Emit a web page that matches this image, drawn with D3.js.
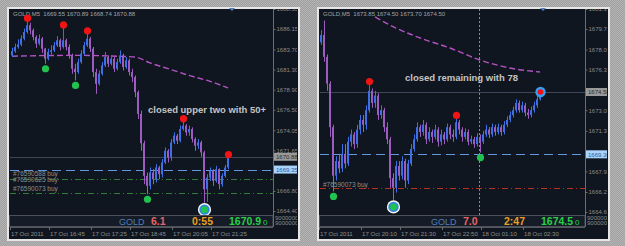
<!DOCTYPE html>
<html>
<head>
<meta charset="utf-8">
<script src="https://cdn.jsdelivr.net/npm/d3@7"></script>
<style>
body { margin: 0; background: #a8a8a8; }
svg { display: block; font-family: "Liberation Sans", Arial, sans-serif; }
</style>
</head>
<body>
<svg id="chart" width="625" height="246"></svg>
<script>

// ---- left chart (GOLD M5, 17 Oct 2011, first half) ----
var leftOpen0 = 1683.0;
var leftClose = [1683.5,1684.0,1684.3,1685.0,1685.8,1686.6,1686.0,1685.2,1684.4,1685.0,
                 1683.8,1682.6,1683.4,1683.6,1684.2,1684.8,1684.0,1684.8,1684.0,1683.0,
                 1681.4,1681.0,1682.2,1683.2,1684.2,1685.0,1683.8,1681.0,1679.6,1680.8,
                 1681.8,1682.8,1682.0,1682.6,1681.4,1682.2,1683.0,1681.6,1682.4,1681.0,
                 1680.4,1678.6,1676.0,1672.5,1668.6,1667.4,1669.0,1668.2,1669.6,1668.8,
                 1670.2,1671.6,1670.8,1672.6,1673.4,1672.8,1674.2,1674.6,1673.8,1674.2,
                 1673.0,1672.2,1672.6,1671.4,1667.0,1668.4,1669.2,1668.0,1669.4,1667.6,
                 1668.6,1669.6,1670.88];
var leftHigh = [1683.9,1684.4,1684.9,1685.4,1686.2,1687.2,1686.9,1686.2,1685.4,1685.5,
                1685.2,1683.9,1683.8,1684.2,1684.6,1685.3,1685.0,1686.4,1685.0,1684.3,
                1683.2,1682.0,1682.6,1683.6,1684.6,1685.7,1685.2,1684.0,1681.4,1681.2,
                1682.2,1683.4,1683.0,1683.0,1682.8,1682.6,1683.6,1683.2,1682.8,1682.6,
                1681.4,1680.6,1678.8,1676.4,1672.8,1669.0,1669.6,1669.4,1670.0,1669.8,
                1670.6,1672.0,1671.8,1673.0,1673.8,1673.6,1674.6,1675.2,1674.8,1674.6,
                1674.4,1673.2,1673.0,1672.8,1671.6,1668.8,1669.6,1669.4,1669.8,1669.5,
                1668.9,1669.9,1670.9];
var leftLow = [1682.8,1683.3,1683.8,1684.1,1684.8,1685.6,1685.5,1684.8,1683.9,1684.2,
               1683.3,1682.0,1682.4,1683.1,1683.4,1684.0,1683.6,1683.8,1683.6,1682.6,
               1680.8,1680.0,1680.8,1682.0,1683.0,1684.0,1683.4,1680.4,1678.4,1679.4,
               1680.6,1681.6,1681.6,1681.8,1681.0,1681.2,1682.0,1681.2,1681.4,1680.6,
               1679.8,1678.0,1675.4,1671.6,1667.6,1666.4,1667.0,1667.6,1667.8,1668.2,
               1668.4,1670.0,1670.2,1670.4,1672.4,1672.4,1672.6,1674.0,1673.4,1673.4,
               1672.6,1671.6,1671.8,1670.9,1665.4,1665.5,1668.0,1667.4,1667.8,1667.0,
               1667.3,1668.4,1669.4];
var leftMaIdx = [0, 20, 35, 41, 46, 53, 59, 66, 72];
var leftMa = [1682.9, 1683.0, 1682.9, 1682.8, 1682.1, 1681.3, 1680.6, 1679.9, 1679.1];
var leftSignalIdx = [5, 17, 25, 57, 72, 11, 21, 45, 64];
var leftSignalKind = ["hi","hi","hi","hi","hi","lo","lo","lo","ring"];
var leftLevels = [1670.88, 1669.35, 1668.22, 1666.59];
var leftLevelKind = ["price", "entry", "order", "order"];
var leftOrderText = ["#76590588 buy", "#76590625 buy", "#76590073 buy"];
var leftOrderPrice = [1668.6, 1667.92, 1666.75];
var leftTicks = [1688.55, 1686.15, 1683.70, 1681.30, 1678.90, 1676.50, 1674.05, 1671.65, 1666.80, 1664.40];
var leftMarked = [1670.88, 1669.35];
var leftTimeIdx = [0, 13, 27, 40, 54, 67];
var leftTimeLabels = ["17 Oct 2011", "17 Oct 16:45", "17 Oct 17:25", "17 Oct 18:45", "17 Oct 20:05", "17 Oct 21:25"];
var leftHeader = "GOLD,M5  1669.55 1670.89 1668.74 1670.88";
var leftNote = "closed upper two with 50+";
var leftInfo = ["GOLD", "6.1", "0:55", "1670.9", "0"];

// ---- right chart (GOLD M5, 17-18 Oct 2011) ----
var rightOpen0 = 1678.6;
var rightClose = [1679.2,1677.4,1675.2,1671.6,1667.6,1668.8,1668.2,1669.4,1668.6,1670.4,
                  1671.0,1670.2,1671.4,1672.2,1671.8,1673.0,1674.6,1673.6,1674.2,1672.6,
                  1673.0,1671.6,1670.6,1667.4,1666.6,1668.4,1667.6,1668.8,1667.2,1668.6,
                  1669.8,1670.6,1671.6,1671.2,1671.8,1670.6,1671.2,1670.8,1671.4,1670.4,
                  1671.0,1670.6,1671.6,1671.0,1670.8,1672.0,1671.4,1670.8,1671.2,1670.4,
                  1670.6,1670.2,1670.8,1670.4,1671.0,1671.4,1671.0,1671.6,1671.2,1671.6,
                  1671.2,1671.8,1672.2,1672.6,1673.0,1673.6,1673.0,1673.4,1672.8,1672.6,
                  1673.0,1673.4,1673.9,1674.5];
var rightHigh = [1679.6,1680.4,1677.6,1675.4,1671.8,1669.2,1669.4,1670.2,1670.2,1670.8,
                 1671.4,1671.2,1671.8,1672.6,1672.6,1673.4,1675.2,1674.8,1674.6,1674.4,
                 1673.4,1673.2,1672.0,1670.8,1667.8,1668.8,1668.8,1669.2,1669.0,1668.9,
                 1670.2,1671.0,1672.0,1671.8,1672.2,1672.0,1671.6,1671.4,1671.8,1671.6,
                 1671.4,1671.2,1671.9,1671.8,1671.4,1672.4,1672.2,1671.6,1671.5,1671.4,
                 1670.9,1670.8,1671.1,1671.0,1671.3,1671.8,1671.6,1671.9,1671.8,1671.9,
                 1671.8,1672.1,1672.5,1672.9,1673.3,1673.9,1673.8,1673.7,1673.6,1673.1,
                 1673.3,1673.7,1674.2,1674.6];
var rightLow = [1678.4,1677.0,1674.6,1670.8,1666.3,1667.2,1667.8,1667.9,1668.2,1668.4,
                1670.0,1669.8,1669.9,1671.0,1671.2,1671.4,1672.8,1673.2,1673.2,1672.2,
                1672.3,1671.2,1670.2,1666.6,1665.6,1666.2,1667.2,1667.3,1666.6,1666.9,
                1668.4,1669.6,1670.4,1670.8,1670.9,1670.2,1670.4,1670.3,1670.6,1670.0,
                1670.1,1670.2,1670.4,1670.6,1670.4,1670.6,1671.0,1670.4,1670.6,1670.1,
                1670.2,1669.9,1670.0,1669.5,1670.2,1670.8,1670.7,1670.8,1670.9,1671.0,
                1670.9,1671.0,1671.6,1672.0,1672.4,1672.8,1672.8,1672.8,1672.5,1672.3,
                1672.4,1672.8,1673.2,1673.8];
var rightMaIdx = [18, 25, 33, 43, 53, 63, 73];
var rightMa = [1680.7, 1679.78, 1678.96, 1678.13, 1677.14, 1676.48, 1676.15];
var rightSignalIdx = [16, 45, 4, 53, 24, 73];
var rightSignalKind = ["hi","hi","lo","lo","ring","end"];
var rightLevels = [1674.50, 1669.36, 1666.58];
var rightLevelKind = ["price", "entry", "stop"];
var rightOrderText = ["#76590073 buy"];
var rightOrderPrice = [1666.7];
var rightTicks = [1681.35, 1679.70, 1678.00, 1676.35, 1673.00, 1671.30, 1667.95, 1666.25, 1664.60];
var rightMarked = [1674.50, 1669.36];
var rightTimeIdx = [0, 14, 27, 41, 54, 68];
var rightTimeLabels = ["17 Oct 2011", "17 Oct 20:10", "17 Oct 21:30", "17 Oct 22:50", "18 Oct 01:10", "18 Oct 02:30"];
var rightCursorIdx = 53;
var rightHeader = "GOLD,M5  1673.85 1674.50 1673.70 1674.50";
var rightNote = "closed remaining with 78";
var rightInfo = ["GOLD", "7.0", "2:47", "1674.5", "0"];

var infoColors = ["#4f7fb8", "#e86464", "#e8a023", "#26d147", "#26d147"];
var infoOffset = [-154, -122, -81, -44, -10];

var svg = d3.select("#chart");
var defs = svg.append("defs");

// grey dithered backdrop
var pat = defs.append("pattern").attr("id", "dither")
    .attr("width", 2).attr("height", 2).attr("patternUnits", "userSpaceOnUse");
pat.append("rect").attr("width", 2).attr("height", 2).attr("fill", "#a0a0a0");
pat.append("rect").attr("width", 1).attr("height", 1).attr("fill", "#b4b4b4");
pat.append("rect").attr("x", 1).attr("y", 1).attr("width", 1).attr("height", 1).attr("fill", "#b4b4b4");
svg.append("rect").attr("width", 625).attr("height", 246).attr("fill", "url(#dither)");

function add_panel(p) {

    var g = svg.append("g");

    // frame
    g.append("rect").attr("x", p.frameL).attr("y", 7)
        .attr("width", p.frameR - p.frameL).attr("height", 234).attr("fill", "#e6e6e6");
    g.append("rect").attr("x", p.frameL + 2).attr("y", 9)
        .attr("width", p.frameR - p.frameL - 4).attr("height", 230).attr("fill", "#10161f");

    var x = d3.scaleLinear().domain([0, p.close.length - 1]).range(p.candleX);
    var y = d3.scaleLinear().domain(p.priceDomain).range(p.priceRange);

    var top = 9, bottom = 215, left = p.frameL + 3;

    defs.append("clipPath").attr("id", "plot" + p.id)
        .append("rect").attr("x", left).attr("y", top)
        .attr("width", p.plotR - left).attr("height", bottom - top);
    defs.append("clipPath").attr("id", "axis" + p.id)
        .append("rect").attr("x", p.plotR).attr("y", top)
        .attr("width", p.frameR - 3 - p.plotR).attr("height", 227 - top);

    var plot = g.append("g").attr("clip-path", "url(#plot" + p.id + ")");

    // header
    plot.append("text").attr("x", left + 3).attr("y", 16)
        .attr("font-size", 6).attr("fill", "#a4a4a4").attr("xml:space", "preserve")
        .text(p.header);

    // vertical cursor line
    if (p.cursorIdx != null) {
        plot.append("line")
            .attr("x1", x(p.cursorIdx) - 0.5).attr("x2", x(p.cursorIdx) - 0.5)
            .attr("y1", top).attr("y2", bottom)
            .attr("stroke", "#8c8c8c").attr("stroke-dasharray", "2,2");
    }

    // horizontal levels
    var levelStyle = {
        price: {stroke: "#3e4757", dash: null, w: 1},
        entry: {stroke: "#6399dc", dash: "9,5", w: 1.2},
        order: {stroke: "#2f7d37", dash: "6,3,1,3", w: 1},
        stop:  {stroke: "#b5321f", dash: "6,3,1,3", w: 1}
    };
    plot.selectAll(".level")
        .data(p.levels)
        .enter().append("line")
        .attr("class", "level")
        .attr("x1", left).attr("x2", p.plotR)
        .attr("y1", function (d) { return Math.round(y(d)) + 0.5; })
        .attr("y2", function (d) { return Math.round(y(d)) + 0.5; })
        .attr("stroke", function (d, i) { return levelStyle[p.levelKind[i]].stroke; })
        .attr("stroke-width", function (d, i) { return levelStyle[p.levelKind[i]].w; })
        .attr("stroke-dasharray", function (d, i) { return levelStyle[p.levelKind[i]].dash; });

    // order labels
    plot.selectAll(".order")
        .data(p.orderText)
        .enter().append("text")
        .attr("class", "order")
        .attr("x", left + 3)
        .attr("y", function (d, i) { return y(p.orderPrice[i]); })
        .attr("font-size", 6.5).attr("fill", "#8e8e8e")
        .text(function (d) { return d; });

    // moving average
    var ma = d3.line()
        .x(function (d, i) { return x(p.maIdx[i]); })
        .y(function (d) { return y(d); })
        .curve(d3.curveMonotoneX);
    plot.append("path")
        .attr("d", ma(p.ma))
        .attr("fill", "none").attr("stroke", "#b452c4")
        .attr("stroke-width", 1.4).attr("stroke-dasharray", "6,3");

    // candles
    var opens = p.close.map(function (c, i) { return i ? p.close[i - 1] : p.open0; });
    function col(i) { return p.close[i] >= opens[i] ? "#3f6fe4" : "#9d5cc0"; }

    plot.selectAll(".wick")
        .data(p.close)
        .enter().append("rect")
        .attr("class", "wick")
        .attr("x", function (d, i) { return x(i); })
        .attr("width", 1)
        .attr("y", function (d, i) { return y(p.high[i]); })
        .attr("height", function (d, i) { return Math.max(1, y(p.low[i]) - y(p.high[i])); })
        .attr("fill", function (d, i) { return col(i); });

    plot.selectAll(".body")
        .data(p.close)
        .enter().append("rect")
        .attr("class", "body")
        .attr("x", function (d, i) { return x(i) - 1; })
        .attr("width", 2)
        .attr("y", function (d, i) { return y(Math.max(d, opens[i])); })
        .attr("height", function (d, i) { return Math.max(1, Math.abs(y(d) - y(opens[i]))); })
        .attr("fill", function (d, i) { return col(i); });

    // signal dots
    p.signalIdx.forEach(function (idx, k) {
        var kind = p.signalKind[k], cx = x(idx) + 0.5;
        if (kind == "hi") {
            plot.append("circle").attr("cx", cx).attr("cy", y(p.high[idx]) - 2)
                .attr("r", 3.6).attr("fill", "#f01414");
        } else if (kind == "lo") {
            plot.append("circle").attr("cx", cx).attr("cy", y(p.low[idx]) + 5)
                .attr("r", 3.6).attr("fill", "#22c24e");
        } else if (kind == "ring") {
            var cy = y(p.low[idx]) + 7;
            plot.append("circle").attr("cx", cx).attr("cy", cy).attr("r", 6.6).attr("fill", "#f4f4f4");
            plot.append("circle").attr("cx", cx).attr("cy", cy).attr("r", 5.2).attr("fill", "#2f86e0");
            plot.append("circle").attr("cx", cx).attr("cy", cy).attr("r", 3.4).attr("fill", "#22c24e");
        } else {
            var cy2 = y(p.close[idx]);
            plot.append("circle").attr("cx", cx).attr("cy", cy2).attr("r", 5.2).attr("fill", "#3a9cf2");
            plot.append("circle").attr("cx", cx).attr("cy", cy2).attr("r", 2.8).attr("fill", "#ee1212");
        }
    });

    // annotation
    plot.append("text")
        .attr("x", p.noteX).attr("y", p.noteY)
        .attr("font-size", 9.5).attr("font-weight", "bold")
        .attr("fill", "#c4c4c4")
        .attr("textLength", p.noteW).attr("lengthAdjust", "spacingAndGlyphs")
        .text(p.note);

    // small marker at the top edge
    g.append("path")
        .attr("d", "M" + (p.markX - 3) + ",8 L" + (p.markX + 3) + ",8 L" + p.markX + ",11 Z")
        .attr("fill", "#5a7fc0");

    // info bar
    g.append("rect").attr("x", left - 0.5).attr("y", 215.5)
        .attr("width", p.plotR - left + 0.5).attr("height", 11)
        .attr("fill", "#151c27").attr("stroke", "#4c5058");
    g.selectAll(".info")
        .data(p.info)
        .enter().append("text")
        .attr("class", "info")
        .attr("x", function (d, i) { return p.plotR + infoOffset[i]; })
        .attr("y", 225)
        .attr("font-size", function (d, i) { return i == 0 ? 9 : (i == 4 ? 8 : 10.5); })
        .attr("font-weight", function (d, i) { return i == 0 || i == 4 ? "normal" : "bold"; })
        .attr("fill", function (d, i) { return infoColors[i]; })
        .text(function (d) { return d; });

    // price axis
    g.append("line")
        .attr("x1", p.plotR + 0.5).attr("x2", p.plotR + 0.5)
        .attr("y1", top).attr("y2", 227)
        .attr("stroke", "#6c6c6c");

    var ax = g.append("g").attr("clip-path", "url(#axis" + p.id + ")");
    var axis = d3.axisRight(y).tickValues(p.ticks).tickSize(2).tickPadding(1)
        .tickFormat(d3.format(".2f"));
    ax.append("g")
        .attr("transform", "translate(" + (p.plotR + 0.5) + ",0)")
        .call(axis)
        .call(function (s) {
            s.select(".domain").remove();
            s.selectAll("line").attr("stroke", "#6c6c6c");
            s.selectAll("text").attr("fill", "#8a8a8a").attr("font-size", 6)
                .attr("font-family", "Liberation Sans, Arial, sans-serif");
        });

    // highlighted price labels
    p.marked.forEach(function (v, k) {
        var cy = y(v);
        ax.append("rect").attr("x", p.plotR + 1).attr("y", cy - 4)
            .attr("width", 25).attr("height", 8)
            .attr("fill", k == 0 ? "#9a9a9a" : "#a9d3fb");
        ax.append("text").attr("x", p.plotR + 3).attr("y", cy + 2.2)
            .attr("font-size", 6).attr("fill", k == 0 ? "#2a2a2a" : "#2b5d9c")
            .text(d3.format(".2f")(v));
    });

    // volume scale remnants
    ax.append("text").attr("x", p.plotR + 2).attr("y", 220).attr("font-size", 6).attr("fill", "#8a8a8a").text("9000000");
    ax.append("text").attr("x", p.plotR + 2).attr("y", 225).attr("font-size", 6).attr("fill", "#8a8a8a").text("9000000");

    // time axis
    g.append("line")
        .attr("x1", left).attr("x2", p.plotR)
        .attr("y1", 227.5).attr("y2", 227.5).attr("stroke", "#55595f");
    g.selectAll(".tick-t")
        .data(p.timeIdx)
        .enter().append("line")
        .attr("class", "tick-t")
        .attr("x1", function (d) { return x(d) - 1.5; })
        .attr("x2", function (d) { return x(d) - 1.5; })
        .attr("y1", 227).attr("y2", 230)
        .attr("stroke", "#6c6c6c");
    g.selectAll(".time")
        .data(p.timeLabels)
        .enter().append("text")
        .attr("class", "time")
        .attr("x", function (d, i) { return x(p.timeIdx[i]) - 1; })
        .attr("y", 235.5)
        .attr("font-size", 6.1).attr("fill", "#8e8e8e")
        .text(function (d) { return d; });
}

add_panel({
    id: "L", frameL: 7, frameR: 300, plotR: 273,
    candleX: [12, 228], priceDomain: [1664.40, 1686.15], priceRange: [211, 29],
    open0: leftOpen0, close: leftClose, high: leftHigh, low: leftLow,
    maIdx: leftMaIdx, ma: leftMa,
    signalIdx: leftSignalIdx, signalKind: leftSignalKind,
    levels: leftLevels, levelKind: leftLevelKind,
    orderText: leftOrderText, orderPrice: leftOrderPrice,
    ticks: leftTicks, marked: leftMarked,
    timeIdx: leftTimeIdx, timeLabels: leftTimeLabels,
    header: leftHeader, note: leftNote, noteX: 148, noteY: 113, noteW: 118,
    info: leftInfo, markX: 232, cursorIdx: null
});

add_panel({
    id: "R", frameL: 317, frameR: 610, plotR: 585,
    candleX: [321, 540], priceDomain: [1664.60, 1679.70], priceRange: [212, 29],
    open0: rightOpen0, close: rightClose, high: rightHigh, low: rightLow,
    maIdx: rightMaIdx, ma: rightMa,
    signalIdx: rightSignalIdx, signalKind: rightSignalKind,
    levels: rightLevels, levelKind: rightLevelKind,
    orderText: rightOrderText, orderPrice: rightOrderPrice,
    ticks: rightTicks, marked: rightMarked,
    timeIdx: rightTimeIdx, timeLabels: rightTimeLabels,
    header: rightHeader, note: rightNote, noteX: 405, noteY: 81, noteW: 113,
    info: rightInfo, markX: 543, cursorIdx: rightCursorIdx
});

</script>
</body>
</html>
